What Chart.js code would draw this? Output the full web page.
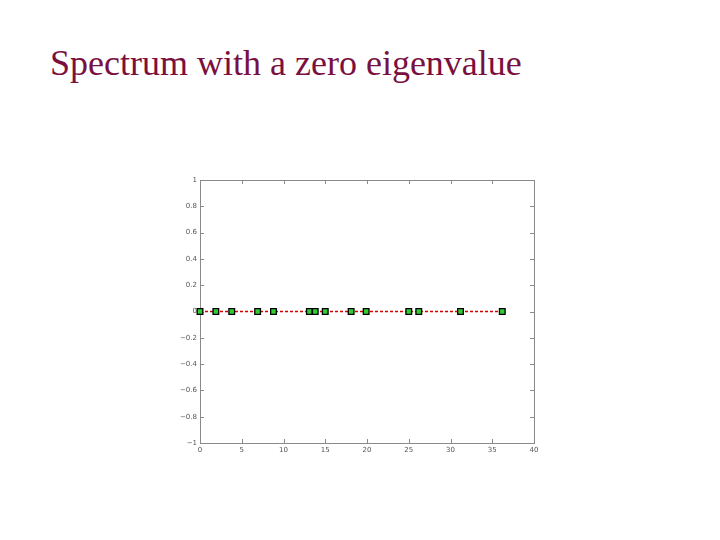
<!DOCTYPE html>
<html>
<head>
<meta charset="utf-8">
<script src="https://cdn.jsdelivr.net/npm/chart.js@4.4.0/dist/chart.umd.min.js"></script>
<style>
  html, body { margin:0; padding:0; background:#fff; }
  #wrap { position:relative; width:720px; height:540px; }
  #title { position:absolute; left:50px; top:42px; font-family:"Liberation Serif","DejaVu Serif",serif; font-size:36px; color:#7a1040; white-space:nowrap; }
  canvas { position:absolute; left:0; top:0; }
</style>
</head>
<body>
<div id="wrap">
  <div id="title">Spectrum with a zero eigenvalue</div>
  <canvas id="c" width="720" height="540"></canvas>
</div>
<script>
// eigenvalues (all imaginary parts zero)
let eigReal = [0, 1.9, 3.8, 6.9, 8.8, 13.1, 13.8, 15.0, 18.1, 19.9, 25.0, 26.2, 31.2, 36.2];
let eigImag = [0, 0, 0, 0, 0, 0, 0, 0, 0, 0, 0, 0, 0, 0];
let xTicks = [0, 5, 10, 15, 20, 25, 30, 35, 40];
let yTicks = [-1, -0.8, -0.6, -0.4, -0.2, 0, 0.2, 0.4, 0.6, 0.8, 1];

function fmt(v){
    let s = String(Math.round(v*10)/10);
    return s.replace("-", "\u2212");
}

// MATLAB style box with inward ticks
const boxTicks = {
    id: "boxTicks",
    beforeDatasetsDraw(chart){
        let ctx = chart.ctx, a = chart.chartArea, xs = chart.scales.x, ys = chart.scales.y, L = 4;
        ctx.save();
        ctx.strokeStyle = "#8a8a8a";
        ctx.lineWidth = 1;
        ctx.strokeRect(a.left+0.5, a.top+0.5, a.right-a.left, a.bottom-a.top);
        ctx.beginPath();
        xTicks.forEach(t=>{
            let p = Math.round(xs.getPixelForValue(t))+0.5;
            ctx.moveTo(p, a.bottom); ctx.lineTo(p, a.bottom-L);
            ctx.moveTo(p, a.top); ctx.lineTo(p, a.top+L);
        });
        yTicks.forEach(t=>{
            let p = Math.round(ys.getPixelForValue(t))+0.5;
            ctx.moveTo(a.left, p); ctx.lineTo(a.left+L, p);
            ctx.moveTo(a.right, p); ctx.lineTo(a.right-L, p);
        });
        ctx.stroke();
        ctx.restore();
    }
};

new Chart(document.getElementById("c"), {
    type: "line",
    data: {
        datasets: [{
            data: eigReal.map((v,i)=>({x:v, y:eigImag[i]})),
            borderColor: "#d40000",
            borderWidth: 1.3,
            borderDash: [3,2],
            pointStyle: "rect",
            pointRadius: 4,
            pointBackgroundColor: "#33cc33",
            pointBorderColor: "#000",
            pointBorderWidth: 1.3,
            clip: false
        }]
    },
    options: {
        responsive: false,
        animation: false,
        layout: { padding: { left: 170, right: 186, top: 180, bottom: 77 } },
        plugins: { legend: { display: false }, tooltip: { enabled: false } },
        scales: {
            x: {
                type: "linear", min: 0, max: 40,
                afterBuildTicks: s => { s.ticks = xTicks.map(v=>({value:v})); },
                afterFit: s => { s.height = 20; },
                grid: { display: false, drawTicks: false },
                border: { display: false },
                ticks: { color: "#555", font: { family: "DejaVu Sans", size: 7 }, padding: 3, maxRotation: 0, callback: v => fmt(v) }
            },
            y: {
                type: "linear", min: -1, max: 1,
                afterBuildTicks: s => { s.ticks = yTicks.map(v=>({value:v})); },
                afterFit: s => { s.width = 30; },
                grid: { display: false, drawTicks: false },
                border: { display: false },
                ticks: { color: "#555", font: { family: "DejaVu Sans", size: 7 }, padding: 3, callback: v => fmt(v) }
            }
        }
    },
    plugins: [boxTicks]
});
</script>
</body>
</html>
